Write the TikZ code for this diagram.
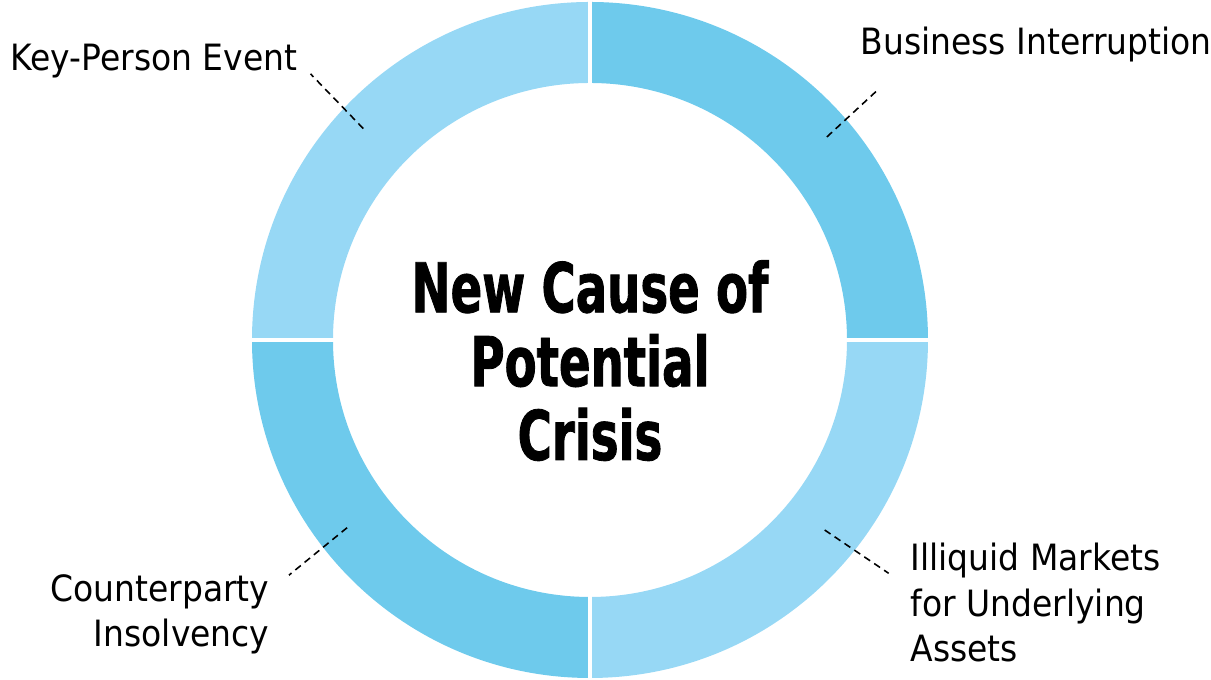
\documentclass[tikz,border=0pt]{standalone}
\usepackage{fontspec}
\usepackage{tikz}
\usetikzlibrary{positioning}
\newfontfamily\titlefont[FakeStretch=0.68,FakeBold=1.2]{DejaVu Sans Bold}
\newfontfamily\labelfont[FakeStretch=0.91]{DejaVu Sans}
\definecolor{ringlight}{RGB}{151,216,245}
\definecolor{ringdark}{RGB}{110,202,236}
\newcommand*{\causestyle}{\labelfont\fontsize{10.3}{13}\selectfont\color{black}}
\newcommand*{\crisisstyle}{\titlefont\fontsize{19.5}{21}\selectfont\color{black}}
\newcommand{\ringpart}[3]{%
	% start angle, end angle, colour
	\pgfmathsetmacro{\rin}{257}
	\pgfmathsetmacro{\rout}{338}
	\fill[#3] (#1:\rin) arc (#1:#2:\rin)
	-- (#2:\rout) arc (#2:#1:\rout) -- cycle;
}

\begin{document}
\begin{tikzpicture}[x=0.01cm, y=0.01cm,
	cause/.style = {font=\causestyle, inner sep=0pt},
	leader/.style = {draw=black, line width=0.45pt, dash pattern=on 2pt off 1.4pt},
	ringgap/.style = {draw=white, line width=1.2pt}]
	\useasboundingbox (-590,-340) rectangle (621,340);
	\ringpart{ 90}{180}{ringlight}
	\ringpart{  0}{ 90}{ringdark}
	\ringpart{270}{360}{ringlight}
	\ringpart{180}{270}{ringdark}
	\foreach \a in {0,90,180,270}
		\draw[ringgap] (\a:250) -- (\a:345);
	% base anchor sits on the last line
	\node (crisis) at (0,-120) [
	anchor = base,
	font  = \crisisstyle,
	align = center,
	inner sep = 0pt
	]{New Cause of\\Potential\\Crisis};
	\node[cause, anchor=base west] (keyperson) at (-580,269) {Key-Person Event};
	\node[cause, anchor=base west] (business) at (270,285) {Business Interruption};
	\node[cause, anchor=base west, align=left] (illiquid) at (320,-322)
		{Illiquid Markets\\for Underlying\\Assets};
	\node[cause, anchor=base east, align=right] (counterparty) at (-320,-307)
		{Counterparty\\Insolvency};
	\coordinate (kp in) at (137:310);
	\coordinate (kp out) at (136.4:386);
	\coordinate (bi in) at (40.6:312);
	\coordinate (bi out) at (41:383);
	\coordinate (im in) at (-39:302);
	\coordinate (im out) at (-38:379);
	\coordinate (ci in) at (217.7:307);
	\coordinate (ci out) at (218:382);
	\draw[leader] (kp in) -- (kp out);
	\draw[leader] (bi in) -- (bi out);
	\draw[leader] (im in) -- (im out);
	\draw[leader] (ci in) -- (ci out);
\end{tikzpicture}
\end{document}
